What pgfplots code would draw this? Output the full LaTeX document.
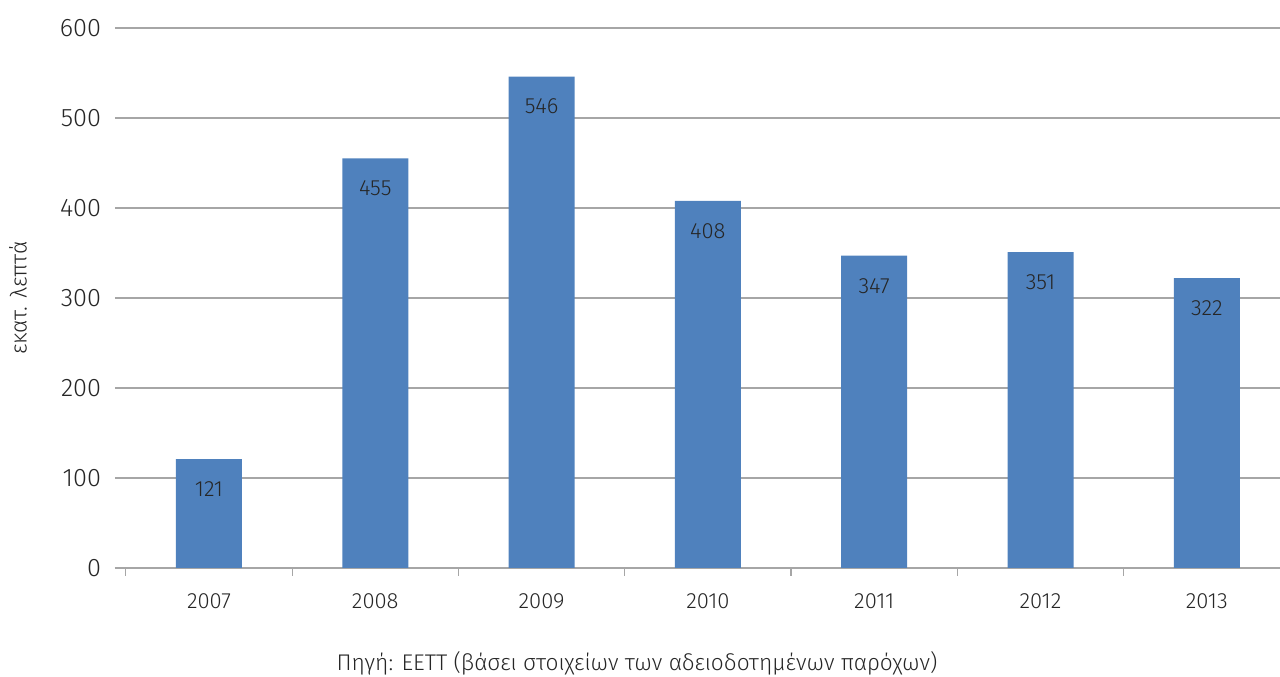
\documentclass[border=0pt]{standalone}
\usepackage{pgfplots}
\pgfplotsset{compat=1.18}
\usepackage{fontspec}
\setmainfont{Fira Sans}[UprightFont=* Light]
\definecolor{barblue}{HTML}{4F81BD}
\definecolor{gridgray}{HTML}{A6A6A6}
\definecolor{txt}{HTML}{262626}
\begin{document}
\begin{tikzpicture}
\useasboundingbox (-86.25pt,-81.75pt) rectangle (873.75pt,426pt);
\begin{axis}[
  at={(0,0)}, anchor=south west,
  scale only axis, width=873.75pt, height=405pt,
  xmin=-0.565, xmax=6.44, ymin=0, ymax=600,
  axis line style={draw=none},
  axis x line*=bottom,
  ytick={0,100,...,600},
  ymajorgrids, grid style={gridgray, line width=0.9pt},
  ytick style={draw=none},
  xtick={0,...,6},
  xticklabels={2007,2008,2009,2010,2011,2012,2013},
  major x tick style={draw=none},
  minor xtick={-0.5,0.5,1.5,2.5,3.5,4.5,5.5},
  minor x tick style={gridgray, line width=0.9pt},
  minor tick length=6pt,
  tick align=outside,
  tick pos=left,
  /pgf/number format/assume math mode=true,
  yticklabel style={anchor=east, inner sep=0pt, xshift=-6pt, font=\fontsize{19pt}{22pt}\selectfont, text=txt},
  xticklabel style={anchor=north, inner sep=0pt, yshift=-14.5pt, font=\fontsize{16.5pt}{19pt}\selectfont, text=txt},
  clip=false,
]
\draw[gridgray, line width=0.9pt] (axis cs:-0.565,0) -- (axis cs:6.44,0);
\addplot[ybar, bar width=49.5pt, fill=barblue, draw=none,
  nodes near coords,
  nodes near coords style={anchor=center, yshift=-22.5pt, font=\fontsize{16.5pt}{19pt}\selectfont, text=txt},
  /pgf/number format/assume math mode=true]
  coordinates {(0,121) (1,455) (2,546) (3,408) (4,347) (5,351) (6,322)};
\end{axis}
\node[rotate=90, text=txt, font=\fontsize{17pt}{20pt}\selectfont] at (-72.75pt,202.5pt) {εκατ. λεπτά};
\node[text=txt, font=\fontsize{17pt}{20pt}\selectfont] at (391.5pt,-71.5pt) {Πηγή: ΕΕΤΤ (βάσει στοιχείων των αδειοδοτημένων παρόχων)};
\end{tikzpicture}
\end{document}
